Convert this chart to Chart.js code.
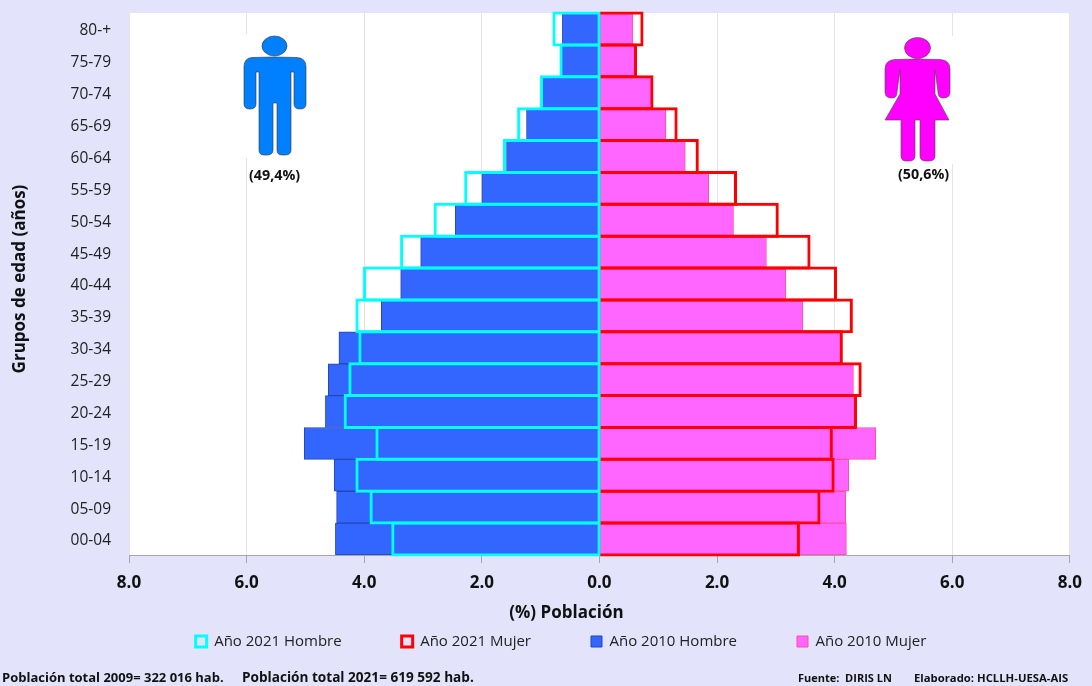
<!DOCTYPE html>
<html><head><meta charset="utf-8">
<script src="https://cdn.jsdelivr.net/npm/chart.js@4/dist/chart.umd.min.js"></script>
<style>
html,body{margin:0;padding:0;background:#E3E3FB;}
#wrap{position:relative;width:1092px;height:686px;overflow:hidden;background:#E3E3FB;font-family:"Open Sans",sans-serif;color:#111;}
canvas{position:absolute;left:0;top:0;}
.t{position:absolute;font-weight:700;white-space:pre;}
svg{position:absolute;}
</style></head><body>
<div id="wrap">
<canvas id="c" width="1092" height="686"></canvas>
<svg style="left:238px;top:34px" width="74" height="124" viewBox="238 34 74 124">
<rect x="238" y="34" width="74" height="124" fill="#fff"/>
<g fill="#007FFF" stroke="#333" stroke-width=".6">
<ellipse cx="274.5" cy="46" rx="12.5" ry="10"/>
<path d="M252 57.5 Q274 56.5 297 57.5 Q306 58 306 67 L306 104 Q306 109 300 109 Q294 109 294 104 L294 72 L291 72 L291 150 Q291 155 285 155 L282 155 Q277 155 277 150 L277 103 L273 103 L273 150 Q273 155 267 155 L264 155 Q259 155 259 150 L259 72 L256 72 L256 104 Q256 109 250 109 Q244 109 244 104 L244 67 Q244 58 252 57.5Z"/>
</g></svg>
<svg style="left:880px;top:36px" width="75" height="128" viewBox="880 36 75 128">
<rect x="880" y="36" width="75" height="128" fill="#fff"/>
<g fill="#FF00FF" stroke="#444" stroke-width=".6">
<ellipse cx="917.5" cy="48" rx="13" ry="10.5"/>
<path d="M895 59.5 Q917 58.5 940 59.5 Q950 60 950 69 L950 92 Q950 98 943 98 Q938 98 938 92 L935 70 L935 94 L949 120 L935 120 L935 156 Q935 161 929 161 L926 161 Q920 161 920 156 L920 120 L915 120 L915 156 Q915 161 909 161 L906 161 Q901 161 901 156 L901 120 L885 120 L900 94 L900 70 L897 92 Q897 98 892 98 Q885 98 885 92 L885 69 Q885 60 895 59.5Z"/>
</g></svg>
<div class="t" style="left:249px;top:165px;font-size:14.3px">(49,4%)</div>
<div class="t" style="left:898px;top:164px;font-size:14.3px">(50,6%)</div>
<div class="t" style="left:2px;top:668px;font-size:13px">Población total 2009= 322 016 hab.</div>
<div class="t" style="left:242px;top:668px;font-size:13.6px;margin-top:-1px">Población total 2021= 619 592 hab.</div>
<div class="t" style="left:798px;top:670px;font-size:11px">Fuente:  DIRIS LN</div>
<div class="t" style="left:914px;top:670px;font-size:11.3px">Elaborado: HCLLH-UESA-AIS</div>
</div>
<script>
const ageGroups=["80-+","75-79","70-74","65-69","60-64","55-59","50-54","45-49","40-44","35-39","30-34","25-29","20-24","15-19","10-14","05-09","00-04"];
const hombre2021=[-0.80,-0.68,-1.01,-1.40,-1.64,-2.30,-2.82,-3.39,-4.02,-4.15,-4.10,-4.27,-4.35,-3.81,-4.15,-3.91,-3.54];
const mujer2021=[0.75,0.64,0.92,1.33,1.69,2.34,3.05,3.59,4.04,4.31,4.14,4.46,4.38,3.97,4.00,3.76,3.41];
const hombre2010=[-0.63,-0.66,-0.97,-1.24,-1.58,-2.00,-2.45,-3.04,-3.38,-3.71,-4.43,-4.61,-4.66,-5.02,-4.51,-4.47,-4.49];
const mujer2010=[0.57,0.60,0.89,1.13,1.46,1.86,2.28,2.84,3.17,3.46,4.10,4.32,4.36,4.70,4.24,4.19,4.20];
const FONT='"Open Sans",sans-serif';
function shiftTitle(s,dx,dy){const o=s.drawTitle;s.drawTitle=function(){const c=this.ctx;c.save();c.translate(dx,dy);o.call(this);c.restore();};}
const plotBg={id:'plotBg',
  beforeDraw(ch){const a=ch.chartArea,c=ch.ctx;c.save();c.fillStyle='#fff';c.fillRect(a.left,a.top,a.width,a.height);c.restore();},
  beforeLayout(ch){
    const lg=ch.legend;
    if(!lg.$wrapped){lg.$wrapped=true;const f=lg.fit;lg.fit=function(){f.call(this);this.height=20;};}
  },
  afterLayout(ch){
    const lg=ch.legend;
    lg.left+=26;lg.right+=26;lg.top-=52;lg.bottom=ch.height;
    if(!ch.$shifted){ch.$shifted=true;shiftTitle(ch.scales.x,-33,-1);shiftTitle(ch.scales.y,0,-5);}
  }};
const outline=(label,data,color,extra)=>Object.assign({label,data,backgroundColor:'rgba(255,255,255,0)',borderColor:color,borderWidth:3,barPercentage:1.094,categoryPercentage:1,clip:3},extra);
const solid=(label,data,bg,bc)=>({label,data,backgroundColor:bg,borderColor:bc,borderWidth:1,borderSkipped:false,barPercentage:1,categoryPercentage:1});
new Chart(document.getElementById('c'),{
  type:'bar',
  data:{labels:ageGroups,datasets:[
    outline('Año 2021 Hombre',hombre2021,'#00FFFF',{borderSkipped:false,base:0.02}),
    outline('Año 2021 Mujer',mujer2021,'#FF0000',{borderSkipped:'start'}),
    solid('Año 2010 Hombre',hombre2010,'#3366FF','#2347B8'),
    solid('Año 2010 Mujer',mujer2010,'#FF66FF','#FF4D9E')
  ]},
  options:{
    indexAxis:'y',responsive:false,animation:false,
    layout:{autoPadding:false,padding:{top:13,right:22,left:0,bottom:40}},
    plugins:{
      tooltip:{enabled:false},
      legend:{position:'bottom',labels:{boxWidth:11,boxHeight:11,padding:60,color:'#222',font:{family:FONT,size:15}}}
    },
    scales:{
      x:{min:-8,max:8,
        afterFit(s){s.height=71;},
        grid:{color:'#E4E4E4',tickColor:'#A6A6A6',tickLength:8,drawOnChartArea:true},
        border:{color:'#A6A6A6',width:1},
        ticks:{stepSize:2,maxRotation:0,color:'#111',padding:10,font:{family:FONT,size:17,weight:'bold'},callback:v=>Math.abs(v).toFixed(1)},
        title:{display:true,text:'(%) Población',color:'#111',font:{family:FONT,size:17,weight:'bold'},padding:{top:3,bottom:2}}
      },
      y:{stacked:true,
        grid:{display:false},border:{display:false},
        afterFit(s){s.width=129;s.paddingTop=0;s.paddingBottom=0;},
        ticks:{color:'#222',padding:10,labelOffset:2,font:{family:FONT,size:15.5}},
        title:{display:true,text:'Grupos de edad (años)',color:'#111',font:{family:FONT,size:17,weight:'bold'},padding:{top:10,bottom:0}}
      }
    }
  },
  plugins:[plotBg]
});
</script>
</body></html>
